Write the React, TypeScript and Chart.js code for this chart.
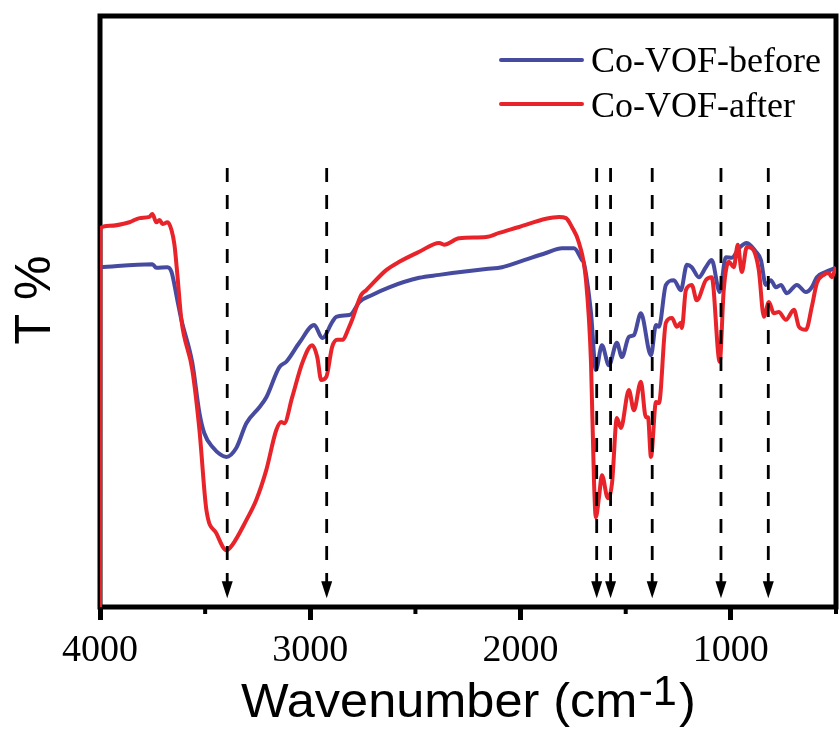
import { useEffect, useRef } from 'react';
import { Chart, registerables } from 'chart.js';

Chart.register(...registerables);

const seriesNames = ['Co-VOF-before', 'Co-VOF-after'];
const seriesColors = ['#474b9f', '#e8232a'];

const beforeWavenumber = [4000, 3751, 3732, 3679, 3660, 3632, 3613, 3561, 3527, 3504, 3466, 3399, 3352, 3304, 3242, 3209, 3147, 3114, 3052, 2981, 2943, 2896, 2877, 2815, 2801, 2767, 2706, 2625, 2482, 2387, 2325, 2164, 2088, 2007, 1879, 1803, 1746, 1708, 1699, 1665, 1642, 1613, 1580, 1542, 1518, 1485, 1461, 1428, 1380, 1356, 1342, 1309, 1271, 1238, 1209, 1186, 1152, 1119, 1091, 1053, 1024, 995, 962, 924, 881, 857, 834, 810, 786, 762, 734, 686, 643, 615, 591, 548, 501];
const beforeTransmittance = [57.5, 58.0, 57.4, 57.5, 56.7, 51.9, 48.6, 41.3, 32.8, 29.4, 27.1, 25.4, 26.9, 31.1, 33.8, 35.5, 40.6, 41.5, 44.7, 47.7, 45.5, 48.2, 49.1, 49.4, 49.7, 51.6, 52.8, 54.1, 55.7, 56.2, 56.5, 57.2, 57.5, 58.4, 59.9, 60.7, 60.7, 58.7, 58.2, 49.7, 40.1, 44.3, 40.9, 44.7, 42.3, 45.7, 46.0, 49.7, 42.6, 47.7, 47.4, 54.5, 55.3, 53.6, 57.9, 57.5, 55.8, 57.5, 58.7, 53.3, 59.2, 59.1, 60.7, 61.6, 60.1, 58.7, 54.5, 55.3, 54.1, 54.5, 53.1, 54.5, 53.3, 54.1, 55.8, 56.7, 57.4];

const afterWavenumber = [4000, 3998, 3955, 3860, 3812, 3765, 3751, 3732, 3717, 3703, 3679, 3660, 3646, 3632, 3613, 3561, 3527, 3494, 3447, 3399, 3371, 3304, 3257, 3209, 3162, 3138, 3124, 3086, 3038, 2991, 2967, 2948, 2924, 2896, 2872, 2848, 2815, 2801, 2758, 2734, 2639, 2577, 2482, 2387, 2364, 2292, 2164, 2102, 2007, 1879, 1817, 1784, 1756, 1722, 1689, 1665, 1651, 1642, 1627, 1613, 1585, 1565, 1542, 1523, 1485, 1461, 1428, 1404, 1394, 1380, 1356, 1342, 1309, 1280, 1257, 1238, 1233, 1214, 1186, 1162, 1119, 1091, 1053, 1034, 1010, 986, 967, 948, 924, 900, 867, 843, 819, 796, 772, 738, 700, 676, 643, 615, 591, 558, 534, 520, 501];
const afterTransmittance = [0, 64.1, 64.5, 65.1, 65.8, 66.0, 66.5, 65.1, 65.5, 64.8, 65.1, 63.8, 61.3, 56.2, 48.6, 40.1, 29.9, 16.4, 12.5, 9.6, 10.5, 14.7, 18.1, 23.2, 29.9, 31.3, 31.1, 35.5, 41.3, 44.3, 42.3, 38.4, 38.9, 44.0, 45.2, 45.2, 47.4, 48.6, 52.8, 53.6, 57.0, 58.4, 60.1, 61.6, 61.3, 62.4, 62.6, 63.3, 64.3, 65.7, 66.0, 65.8, 64.3, 61.6, 55.3, 41.3, 21.5, 15.2, 18.6, 22.3, 18.4, 21.0, 32.0, 30.3, 36.7, 33.3, 38.1, 32.1, 32.1, 25.4, 34.7, 34.5, 48.1, 48.9, 47.4, 48.1, 47.2, 53.6, 54.5, 51.9, 55.3, 55.8, 41.5, 53.6, 58.4, 57.5, 61.3, 56.7, 60.9, 60.7, 57.0, 49.1, 51.6, 49.7, 49.9, 48.6, 50.3, 47.4, 46.9, 50.8, 54.8, 56.2, 56.5, 55.8, 57.5];

const majorTicks = [4000, 3000, 2000, 1000];
const minorTicks = [3500, 2500, 1500, 500];
const peakWavenumbers = [3395, 2922, 1638, 1572, 1374, 1047, 822];
const arrowTopValue = 74.3;
const arrowTipValue = 1.5;

const xTitleMain = 'Wavenumber (cm';
const xTitleSup = '-1';
const xTitleEnd = ')';
const yTitle = 'T %';

const framePlugin = {
  id: 'frame',
  beforeDatasetsDraw(chart: any) {
    const { ctx, chartArea } = chart;
    const { left, top, right, bottom } = chartArea;
    ctx.save();
    ctx.strokeStyle = '#000';
    ctx.lineWidth = 5;
    ctx.strokeRect(left, top, right - left, bottom - top);
    const xs = chart.scales.x;
    ctx.lineWidth = 4;
    minorTicks.forEach((v) => {
      const px = xs.getPixelForValue(v);
      ctx.beginPath();
      ctx.moveTo(px, bottom);
      ctx.lineTo(px, bottom + 7);
      ctx.stroke();
    });
    ctx.restore();
  },
};

const arrowPlugin = {
  id: 'arrows',
  afterDatasetsDraw(chart: any) {
    const { ctx } = chart;
    const xs = chart.scales.x;
    const ys = chart.scales.y;
    const yTop = ys.getPixelForValue(arrowTopValue);
    const yTip = ys.getPixelForValue(arrowTipValue);
    const headLen = 17;
    const headHalf = 5.5;
    ctx.save();
    peakWavenumbers.forEach((w) => {
      const px = xs.getPixelForValue(w);
      ctx.strokeStyle = '#000';
      ctx.lineWidth = 2.8;
      ctx.setLineDash([14, 13]);
      ctx.beginPath();
      ctx.moveTo(px, yTop);
      ctx.lineTo(px, yTip - headLen + 2);
      ctx.stroke();
      ctx.setLineDash([]);
      ctx.fillStyle = '#000';
      ctx.beginPath();
      ctx.moveTo(px - headHalf, yTip - headLen);
      ctx.lineTo(px + headHalf, yTip - headLen);
      ctx.lineTo(px, yTip);
      ctx.closePath();
      ctx.fill();
    });
    ctx.restore();
  },
};

const decorPlugin = {
  id: 'decor',
  afterDraw(chart: any) {
    const { ctx } = chart;
    ctx.save();
    const rows = [
      { y: 60, base: 72 },
      { y: 104, base: 117 },
    ];
    seriesNames.forEach((name, i) => {
      ctx.strokeStyle = seriesColors[i];
      ctx.lineWidth = 4;
      ctx.lineCap = 'round';
      ctx.beginPath();
      ctx.moveTo(501, rows[i].y);
      ctx.lineTo(582, rows[i].y);
      ctx.stroke();
      ctx.fillStyle = '#000';
      ctx.font = '36px "Liberation Serif"';
      ctx.textAlign = 'left';
      ctx.textBaseline = 'alphabetic';
      ctx.fillText(name, 591, rows[i].base);
    });

    ctx.fillStyle = '#000';
    ctx.textBaseline = 'alphabetic';
    ctx.textAlign = 'left';
    ctx.save();
    ctx.translate(241, 717);
    ctx.scale(1.03, 1);
    ctx.font = '49px "Liberation Sans"';
    ctx.fillText(xTitleMain, 0, 0);
    const w1 = ctx.measureText(xTitleMain).width;
    ctx.font = '42px "Liberation Sans"';
    ctx.fillText(xTitleSup, w1 + 1, -12);
    const w2 = ctx.measureText(xTitleSup).width;
    ctx.font = '49px "Liberation Sans"';
    ctx.fillText(xTitleEnd, w1 + w2 + 3, 0);
    ctx.restore();

    ctx.save();
    ctx.translate(50, 300);
    ctx.rotate(-Math.PI / 2);
    ctx.font = '50px "Liberation Sans"';
    ctx.textAlign = 'center';
    ctx.textBaseline = 'alphabetic';
    ctx.fillText(yTitle, 0, 0);
    ctx.restore();

    ctx.restore();
  },
};

export default function App() {
  const canvasRef = useRef<HTMLCanvasElement | null>(null);

  useEffect(() => {
    const canvas = canvasRef.current;
    if (!canvas) return;
    const before = beforeWavenumber.map((x, i) => ({ x, y: beforeTransmittance[i] }));
    const after = afterWavenumber.map((x, i) => ({ x, y: afterTransmittance[i] }));
    const chart = new Chart(canvas, {
      type: 'line',
      data: {
        datasets: [
          {
            label: seriesNames[0],
            data: before,
            borderColor: seriesColors[0],
            borderWidth: 4,
            pointRadius: 0,
            cubicInterpolationMode: 'monotone',
            fill: false,
            order: 2,
          },
          {
            label: seriesNames[1],
            data: after,
            borderColor: seriesColors[1],
            borderWidth: 4,
            pointRadius: 0,
            cubicInterpolationMode: 'monotone',
            fill: false,
            order: 1,
          },
        ],
      },
      options: {
        responsive: false,
        animation: false,
        events: [],
        layout: { padding: { top: 16, right: 3, left: 0, bottom: 0 } },
        plugins: { legend: { display: false }, tooltip: { enabled: false } },
        scales: {
          x: {
            type: 'linear',
            reverse: true,
            min: 500,
            max: 4000,
            afterBuildTicks: (s: any) => {
              s.ticks = majorTicks.map((value) => ({ value }));
            },
            afterFit: (s: any) => {
              s.height = 122;
            },
            ticks: {
              autoSkip: false,
              maxRotation: 0,
              padding: 8,
              color: '#000',
              font: { family: '"Liberation Serif"', size: 38 },
              callback: (v: any) => String(v),
            },
            grid: {
              display: true,
              drawOnChartArea: false,
              drawTicks: true,
              tickLength: 13,
              tickWidth: 5,
              tickColor: '#000',
            },
            border: { display: false },
          },
          y: {
            type: 'linear',
            min: 0,
            max: 100,
            afterFit: (s: any) => {
              s.width = 100;
            },
            ticks: { display: false },
            grid: { display: false },
            border: { display: false },
          },
        },
      },
      plugins: [framePlugin, arrowPlugin, decorPlugin],
    } as any);
    return () => chart.destroy();
  }, []);

  return (
    <div style={{ position: 'fixed', left: 0, top: 0, width: 839, height: 729, background: '#fff' }}>
      <canvas ref={canvasRef} width={839} height={729} style={{ display: 'block' }} />
    </div>
  );
}
